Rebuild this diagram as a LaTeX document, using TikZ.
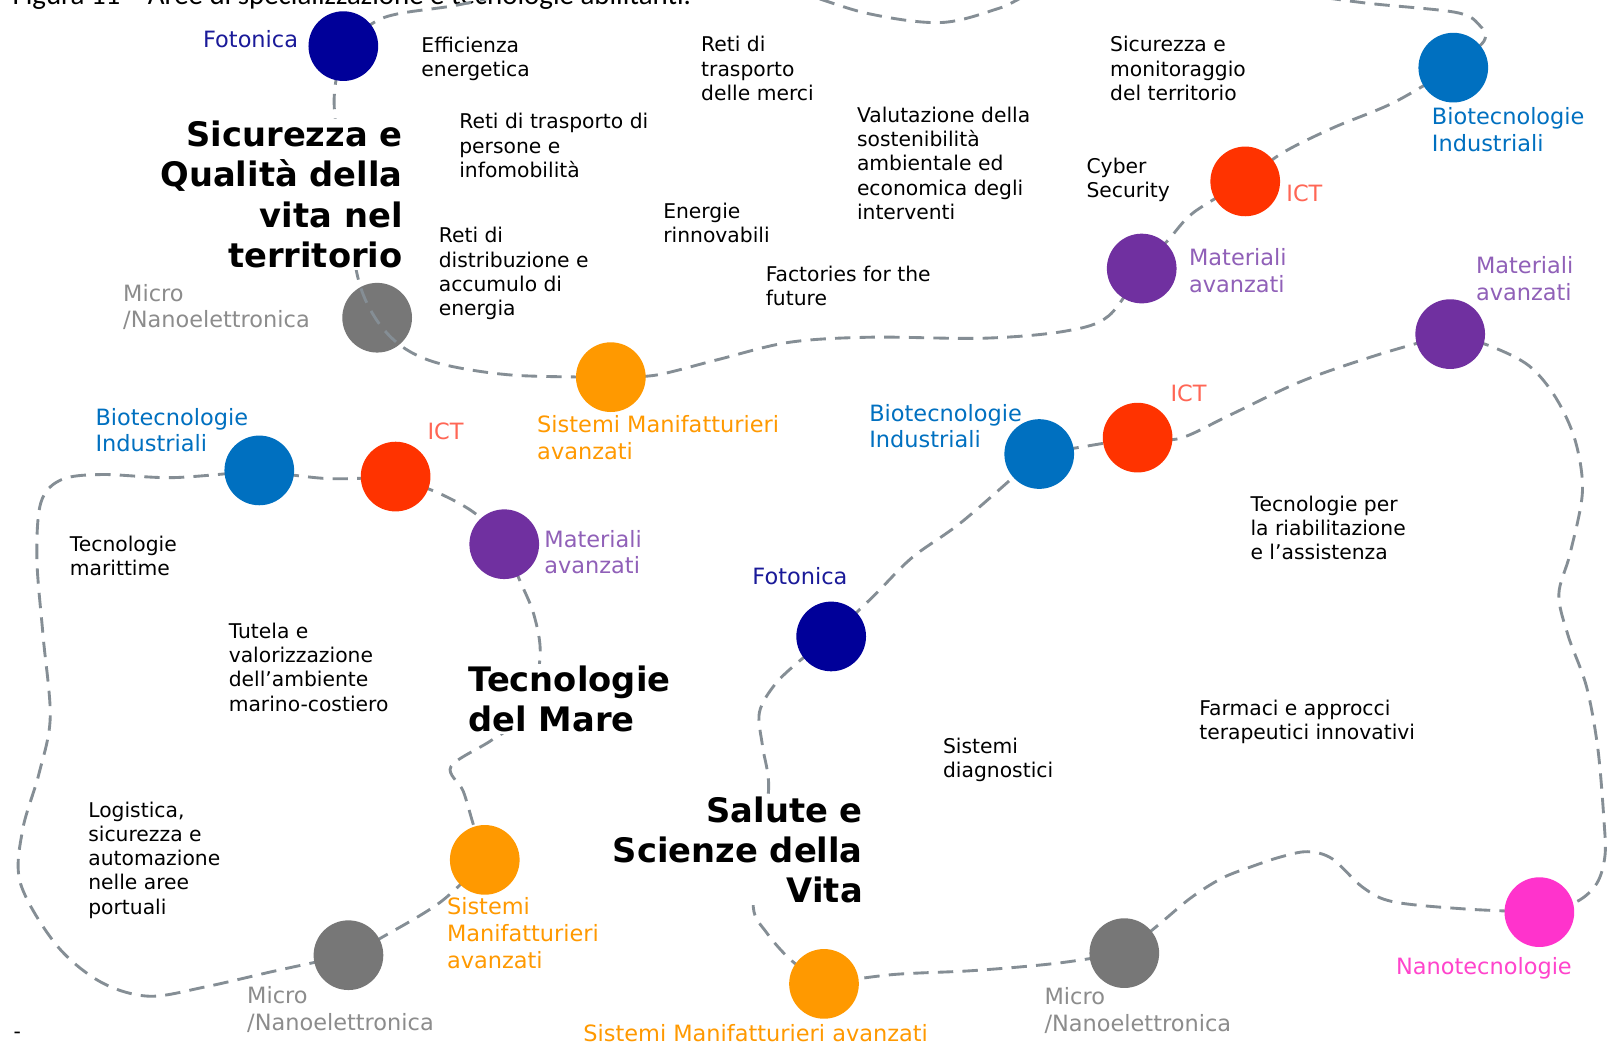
\documentclass[tikz,border=0pt]{standalone}
\usepackage{fontspec}
\setmainfont{DejaVu Sans}
\newfontfamily\capfont{Carlito}
\usetikzlibrary{backgrounds}
\definecolor{cNavy}{HTML}{000099}
\definecolor{cGrey}{HTML}{777777}
\definecolor{cOrange}{HTML}{FF9900}
\definecolor{cPurple}{HTML}{7030A0}
\definecolor{cRed}{HTML}{FF3300}
\definecolor{cBlue}{HTML}{0070C0}
\definecolor{cPink}{HTML}{FF33CC}
\definecolor{lNavy}{HTML}{1A1A99}
\definecolor{lGrey}{HTML}{8C8C8C}
\definecolor{lOrange}{HTML}{FF9900}
\definecolor{lPurple}{HTML}{9060B8}
\definecolor{lRed}{HTML}{FF6655}
\definecolor{lBlue}{HTML}{0070C0}
\definecolor{lPink}{HTML}{FF44CC}
\definecolor{linec}{HTML}{858E95}
\begin{document}
\begin{tikzpicture}[x=1pt,y=-1pt,
  ball/.style={circle,inner sep=0pt,minimum size=68pt,fill=#1},
  lbl/.style={inner sep=0pt,font=\fontsize{21.9}{26.2}\selectfont,align=left,anchor=base west},
  txt/.style={inner sep=0pt,font=\fontsize{19.8}{23.7}\selectfont,align=left,anchor=base west},
  ttl/.style={inner sep=2pt,fill=white,font=\fontsize{32.9}{39.3}\selectfont\bfseries},
  link/.style={draw=linec,line width=2.8pt,dash pattern=on 15pt off 9pt}
]
\useasboundingbox (0,0) rectangle (1568,1020);
\clip (0,0) rectangle (1568,1020);

% ---------- circles ----------
\node[ball=cNavy] (f1) at (335,45) {};
\node[ball=cGrey] (g1) at (368,310) {};
\node[ball=cOrange] (o1) at (596,368) {};
\node[ball=cPurple] (p1) at (1114,262) {};
\node[ball=cRed] (r1) at (1215,177) {};
\node[ball=cBlue] (b1) at (1418,66) {};

\node[ball=cBlue] (b2) at (253,459) {};
\node[ball=cRed] (r2) at (386,465) {};
\node[ball=cPurple] (p2) at (492,531) {};
\node[ball=cOrange] (o2) at (473,839) {};
\node[ball=cGrey] (g2) at (340,932) {};

\node[ball=cNavy] (f3) at (811,621) {};
\node[ball=cBlue] (b3) at (1014,443) {};
\node[ball=cRed] (r3) at (1110,427) {};
\node[ball=cPurple] (p3) at (1415,326) {};
\node[ball=cPink] (n3) at (1502,890) {};
\node[ball=cGrey] (g3) at (1097,930) {};
\node[ball=cOrange] (o3) at (804,960) {};

% ---------- connectors (behind circles) ----------
\begin{scope}[on background layer]
\fill[white] (0,0) rectangle (1568,1020);
\node[inner sep=0pt,anchor=base west,font=\capfont\fontsize{28.2}{30}\selectfont] (cap) at (12,4) {Figura 11 – Aree di specializzazione e tecnologie abilitanti.};
% group 1
\draw[link] plot[smooth,tension=0.55] coordinates {(f1) (375,17) (446,5) (530,-12) (650,-25) (760,-12) (846,13) (918,22) (975,8) (1020,-10) (1130,-22) (1250,-8) (1333,3) (1420,12) (1443,24) (1448,40) (b1)};
\draw[link] plot[smooth,tension=0.55] coordinates {(b1) (1360,100) (1300,125) (1250,150) (r1)};
\draw[link] plot[smooth,tension=0.55] coordinates {(r1) (1165,207) (1140,234) (p1)};
\draw[link] plot[smooth,tension=0.55] coordinates {(p1) (1082,308) (1040,323) (960,330) (850,329) (770,334) (700,351) (640,366) (o1)};
\draw[link] plot[smooth,tension=0.55] coordinates {(o1) (500,366) (430,355) (392,338) (366,310) (349,270) (337,190) (326,100) (f1)};
% group 2
\draw[link] plot[smooth,tension=0.55] coordinates {(b2) (320,467) (r2)};
\draw[link] plot[smooth,tension=0.55] coordinates {(r2) (430,482) (465,502) (p2)};
\draw[link] plot[smooth,tension=0.55] coordinates {(p2) (507,566) (521,600) (527,640) (515,695) (480,722) (440,748) (452,772) (462,805) (o2)};
\draw[link] plot[smooth,tension=0.55] coordinates {(o2) (430,880) (372,915) (g2)};
\draw[link] plot[smooth,tension=0.55] coordinates {(g2) (270,947) (200,963) (145,972) (98,958) (55,922) (20,862) (22,810) (38,755) (49,700) (42,620) (36,545) (40,490) (60,468) (100,463) (170,466) (b2)};
% group 3
\draw[link] plot[smooth,tension=0.55] coordinates {(o3) (772,937) (748,910) (735,885) (742,830) (750,768) (744,728) (741,695) (756,668) (780,645) (f3)};
\draw[link] plot[smooth,tension=0.55] coordinates {(f3) (852,582) (890,544) (940,508) (b3)};
\draw[link] plot[smooth,tension=0.55] coordinates {(b3) (r3)};
\draw[link] plot[smooth,tension=0.55] coordinates {(r3) (1150,428) (1200,405) (1270,372) (1345,346) (p3)};
\draw[link] plot[smooth,tension=0.55] coordinates {(p3) (1455,338) (1492,357) (1518,388) (1537,430) (1544,480) (1532,540) (1521,580) (1530,620) (1548,670) (1559,730) (1565,800) (1566,835) (1558,862) (1538,880) (n3)};
\draw[link] plot[smooth,tension=0.55] coordinates {(n3) (1431,887) (1360,880) (1330,866) (1300,838) (1276,831) (1250,836) (1220,846) (1192,857) (1162,876) (1132,901) (g3)};
\draw[link] plot[smooth,tension=0.55] coordinates {(g3) (1030,940) (950,947) (870,951) (o3)};
\end{scope}

% dashes crossing the grey circle (drawn over it)
\begin{scope}
\clip (g1) circle (34);
\draw[link] plot[smooth,tension=0.55] coordinates {(o1) (500,366) (430,355) (392,338) (366,310) (349,270) (337,190) (326,100) (f1)};
\end{scope}

% ---------- titles (anchor at baseline of last line) ----------
\node[ttl,align=right,anchor=base east] (t1) at (395,261) {Sicurezza e\\Qualità della\\vita nel\\territorio};
\node[ttl,align=left,anchor=base west] (t2) at (455,714) {Tecnologie\\del Mare};
\node[ttl,align=right,anchor=base east] (t3) at (844,881) {Salute e\\Scienze della\\Vita};

% ---------- technology labels ----------
\node[lbl,text=lNavy,anchor=base east] (f1l) at (291,46) {Fotonica};
\node[lbl,text=lGrey] (g1l) at (120,320) {Micro\\/Nanoelettronica};
\node[lbl,text=lOrange] (o1l) at (524,448) {Sistemi Manifatturieri\\avanzati};
\node[lbl,text=lPurple] (p1l) at (1160,285) {Materiali\\avanzati};
\node[lbl,text=lRed] (r1l) at (1255,197) {ICT};
\node[lbl,text=lBlue] (b1l) at (1397,148) {Biotecnologie\\Industriali};

\node[lbl,text=lBlue] (b2l) at (93,441) {Biotecnologie\\Industriali};
\node[lbl,text=lRed] (r2l) at (417,429) {ICT};
\node[lbl,text=lPurple] (p2l) at (531,560) {Materiali\\avanzati};
\node[lbl,text=lOrange] (o2l) at (436,945) {Sistemi\\Manifatturieri\\avanzati};
\node[lbl,text=lGrey] (g2l) at (241,1005) {Micro\\/Nanoelettronica};

\node[lbl,text=lNavy] (f3l) at (734,570) {Fotonica};
\node[lbl,text=lBlue] (b3l) at (848,437) {Biotecnologie\\Industriali};
\node[lbl,text=lRed] (r3l) at (1142,392) {ICT};
\node[lbl,text=lPurple] (p3l) at (1440,293) {Materiali\\avanzati};
\node[lbl,text=lPink] (n3l) at (1362,951) {Nanotecnologie};
\node[lbl,text=lGrey] (g3l) at (1019,1006) {Micro\\/Nanoelettronica};
\node[lbl,text=lOrange] (o3l) at (569,1016) {Sistemi Manifatturieri avanzati};

% ---------- application areas (anchor at baseline of last line) ----------
\node[txt] (e1) at (411,75) {Efficienza\\energetica};
\node[txt] (e2) at (684,98) {Reti di\\trasporto\\delle merci};
\node[txt] (e3) at (448,173) {Reti di trasporto di\\persone e\\infomobilità};
\node[txt] (e4) at (428,308) {Reti di\\distribuzione e\\accumulo di\\energia};
\node[txt] (e5) at (647,237) {Energie\\rinnovabili};
\node[txt] (e6) at (836,214) {Valutazione della\\sostenibilità\\ambientale ed\\economica degli\\interventi};
\node[txt] (e7) at (1083,98) {Sicurezza e\\monitoraggio\\del territorio};
\node[txt] (e8) at (1060,193) {Cyber\\Security};
\node[txt] (e9) at (747,298) {Factories for the\\future};

\node[txt] (e10) at (68,562) {Tecnologie\\marittime};
\node[txt] (e11) at (223,694) {Tutela e\\valorizzazione\\dell’ambiente\\marino-costiero};
\node[txt] (e12) at (86,892) {Logistica,\\sicurezza e\\automazione\\nelle aree\\portuali};
\node[txt] (dash) at (13,1013) {-};

\node[txt] (e13) at (1220,546) {Tecnologie per\\la riabilitazione\\e l’assistenza};
\node[txt] (e14) at (1170,722) {Farmaci e approcci\\terapeutici innovativi};
\node[txt] (e15) at (920,759) {Sistemi\\diagnostici};
\end{tikzpicture}
\end{document}
